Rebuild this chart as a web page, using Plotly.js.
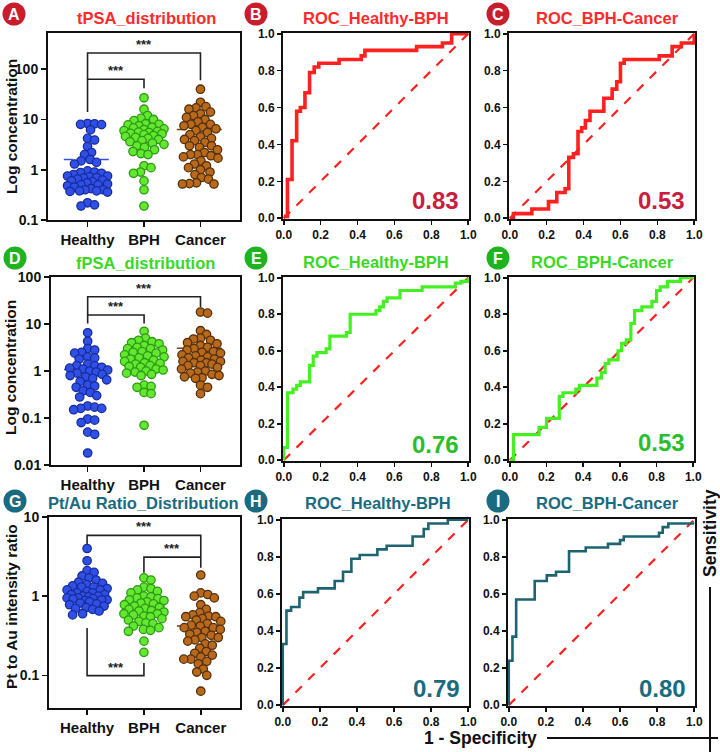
<!DOCTYPE html>
<html>
<head>
<meta charset="utf-8">
<script src="https://cdn.plot.ly/plotly-3.0.1.min.js"></script>
<style>html,body{margin:0;padding:0;background:#fff;}#chart{width:720px;height:752px;}</style>
</head>
<body>
<div id="chart"></div>
<script>
// ---------------- DATA ----------------
const groups = ["Healthy", "BPH", "Cancer"];

const tpsaHealthy = [8.3, 8.2, 8.0, 7.9, 6.2, 4.2, 3.9, 2.9, 2.2, 2.0, 1.6, 1.5, 1.4, 1.3, 0.95, 0.9, 0.88, 0.85, 0.8, 0.75, 0.75, 0.72, 0.7, 0.68, 0.65, 0.62, 0.6, 0.58, 0.55, 0.52, 0.5, 0.5, 0.48, 0.45, 0.42, 0.4, 0.4, 0.38, 0.38, 0.37, 0.36, 0.22, 0.2, 0.19];
const tpsaBPH = [27, 16, 12, 10.5, 10, 9.5, 8.2, 8, 7.8, 7.5, 7, 6.8, 6.5, 6.3, 6, 5.8, 5.6, 5.5, 5.3, 5.2, 5, 4.8, 4.6, 4.4, 4.2, 4, 3.8, 3.6, 3.4, 3.2, 3, 2.8, 2.5, 2.3, 2.1, 2.0, 1.2, 1.1, 0.9, 0.85, 0.6, 0.4, 0.19];
const tpsaCancer = [40, 22, 18, 17, 16, 14, 13, 12, 11, 10, 9, 8, 8, 7.5, 7, 6.5, 6, 5.5, 5, 4.5, 4.2, 4, 3.8, 3.5, 3, 3, 2.8, 2.5, 2.2, 2, 2, 1.9, 1.8, 1.7, 1.5, 1.3, 1.2, 1.1, 1, 0.9, 0.8, 0.7, 0.65, 0.55, 0.53, 0.52, 0.52];
const tpsaMeans = [1.6, 5.2, 6.3];

const fpsaHealthy = [6.5, 4.3, 3.0, 2.8, 2.5, 2.4, 2.0, 1.9, 1.8, 1.4, 1.3, 1.3, 1.2, 1.15, 1.1, 1.05, 1.0, 0.95, 0.9, 0.85, 0.8, 0.75, 0.7, 0.65, 0.6, 0.5, 0.48, 0.45, 0.38, 0.35, 0.3, 0.28, 0.18, 0.17, 0.16, 0.16, 0.15, 0.095, 0.09, 0.08, 0.05, 0.045, 0.018];
const fpsaBPH = [7, 5, 4.5, 4.2, 4, 3.8, 3.5, 3.2, 3, 3, 2.8, 2.6, 2.5, 2.4, 2.2, 2.1, 2, 1.9, 1.8, 1.7, 1.6, 1.5, 1.45, 1.4, 1.3, 1.25, 1.2, 1.1, 1.05, 1.0, 0.95, 0.9, 0.85, 0.8, 0.5, 0.47, 0.45, 0.35, 0.33, 0.07];
const fpsaCancer = [18, 17, 7.2, 6, 5, 4.8, 4.5, 4, 3.8, 3.5, 3.2, 3, 2.8, 2.6, 2.5, 2.4, 2.2, 2.1, 2, 1.9, 1.8, 1.7, 1.6, 1.6, 1.5, 1.5, 1.4, 1.3, 1.3, 1.2, 1.1, 1.0, 0.95, 0.9, 0.85, 0.8, 0.75, 0.72, 0.7, 0.5, 0.45, 0.33];
const fpsaMeans = [1.08, 2.19, 3.04];

const ratioHealthy = [4.0, 2.8, 2.1, 2.0, 1.8, 1.7, 1.6, 1.5, 1.45, 1.4, 1.35, 1.3, 1.3, 1.25, 1.2, 1.2, 1.15, 1.1, 1.1, 1.05, 1.05, 1.0, 1.0, 0.98, 0.95, 0.95, 0.93, 0.92, 0.9, 0.9, 0.88, 0.85, 0.82, 0.8, 0.78, 0.75, 0.72, 0.7, 0.68, 0.65, 0.6, 0.58];
const ratioBPH = [1.7, 1.6, 1.3, 1.25, 1.2, 1.15, 1.1, 1.0, 0.98, 0.95, 0.93, 0.9, 0.88, 0.85, 0.82, 0.8, 0.78, 0.75, 0.72, 0.7, 0.68, 0.66, 0.65, 0.63, 0.6, 0.6, 0.58, 0.56, 0.55, 0.52, 0.5, 0.48, 0.46, 0.45, 0.42, 0.4, 0.38, 0.37, 0.36, 0.27, 0.195];
const ratioCancer = [1.85, 1.1, 1.05, 1.0, 0.95, 0.78, 0.68, 0.62, 0.58, 0.56, 0.55, 0.55, 0.52, 0.5, 0.48, 0.45, 0.43, 0.42, 0.4, 0.4, 0.38, 0.36, 0.35, 0.33, 0.32, 0.3, 0.3, 0.28, 0.27, 0.25, 0.24, 0.22, 0.2, 0.19, 0.18, 0.17, 0.16, 0.16, 0.15, 0.14, 0.12, 0.11, 0.1, 0.063];
const ratioMeans = [1.19, 0.75, 0.42];

// ROC step curves (1 - specificity, sensitivity)
const rocB_fpr = [0, 0.02, 0.045, 0.07, 0.09, 0.115, 0.14, 0.165, 0.19, 0.30, 0.42, 0.44, 0.72, 0.86, 0.91, 1.0];
const rocB_tpr = [0.01, 0.21, 0.42, 0.58, 0.60, 0.68, 0.79, 0.82, 0.84, 0.86, 0.88, 0.91, 0.93, 0.95, 1.0, 1.0];
const rocC_fpr = [0, 0.02, 0.12, 0.21, 0.255, 0.30, 0.32, 0.345, 0.37, 0.39, 0.41, 0.435, 0.51, 0.555, 0.58, 0.60, 0.62, 0.81, 0.88, 0.93, 1.0];
const rocC_tpr = [0, 0.025, 0.05, 0.09, 0.14, 0.16, 0.33, 0.35, 0.47, 0.49, 0.53, 0.58, 0.65, 0.70, 0.74, 0.84, 0.86, 0.88, 0.93, 0.95, 1.0];
const rocE_fpr = [0, 0, 0.02, 0.05, 0.07, 0.09, 0.14, 0.16, 0.18, 0.23, 0.25, 0.34, 0.36, 0.50, 0.52, 0.54, 0.56, 0.63, 0.75, 0.93, 0.96, 1.0];
const rocE_tpr = [0, 0.07, 0.37, 0.39, 0.41, 0.43, 0.52, 0.57, 0.59, 0.61, 0.68, 0.70, 0.80, 0.82, 0.84, 0.87, 0.89, 0.93, 0.95, 0.97, 0.98, 1.0];
const rocF_fpr = [0, 0.02, 0.16, 0.20, 0.27, 0.29, 0.36, 0.38, 0.475, 0.50, 0.52, 0.54, 0.59, 0.61, 0.635, 0.66, 0.68, 0.72, 0.775, 0.80, 0.82, 0.86, 0.93, 1.0];
const rocF_tpr = [0, 0.14, 0.18, 0.23, 0.35, 0.37, 0.39, 0.41, 0.45, 0.48, 0.53, 0.55, 0.60, 0.64, 0.66, 0.75, 0.82, 0.84, 0.87, 0.93, 0.95, 0.98, 1.0, 1.0];
const rocH_fpr = [0, 0, 0.02, 0.045, 0.09, 0.11, 0.19, 0.28, 0.325, 0.37, 0.415, 0.51, 0.56, 0.70, 0.76, 0.785, 0.89, 1.0];
const rocH_tpr = [0, 0.33, 0.51, 0.53, 0.58, 0.61, 0.63, 0.67, 0.72, 0.79, 0.81, 0.84, 0.86, 0.91, 0.95, 0.98, 1.0, 1.0];
const rocI_fpr = [0, 0, 0.02, 0.04, 0.14, 0.205, 0.255, 0.325, 0.415, 0.535, 0.60, 0.62, 0.81, 0.83, 0.86, 1.0];
const rocI_tpr = [0, 0.24, 0.37, 0.57, 0.67, 0.70, 0.72, 0.83, 0.85, 0.87, 0.89, 0.91, 0.93, 0.96, 0.98, 0.98];

const aucLabels = ["0.83", "0.53", "0.76", "0.53", "0.79", "0.80"];
const panelLetters = ["A", "B", "C", "D", "E", "F", "G", "H", "I"];
const panelTitles = ["tPSA_distribution", "ROC_Healthy-BPH", "ROC_BPH-Cancer",
                     "fPSA_distribution", "ROC_Healthy-BPH", "ROC_BPH-Cancer",
                     "Pt/Au Ratio_Distribution", "ROC_Healthy-BPH", "ROC_BPH-Cancer"];
const distYTitles = ["Log concentration", "Log concentration", "Pt to Au intensity ratio"];

// ---------------- LAYOUT / STYLE ----------------
const W = 720, H = 752;
const FONT = "Liberation Sans, Arial, Helvetica, sans-serif";
const BOX = {
  A: {x: [48, 240], y: [33, 220]}, B: {x: [283, 469], y: [33, 219]}, C: {x: [509, 695], y: [33, 219]},
  D: {x: [51, 240], y: [277, 465]}, E: {x: [283, 469], y: [277, 461]}, F: {x: [509, 694], y: [277, 461]},
  G: {x: [49, 240], y: [517, 708]}, H: {x: [282, 469], y: [519, 706]}, I: {x: [508, 695], y: [519, 706]}
};
const rowColor = {
  circle: ["#c81e2c", "#1fb41f", "#1a6b80"],
  title: ["#ff2a2a", "#3ad826", "#1a6b80"],
  auc: ["#c8203c", "#2cbd2c", "#1a6b7c"],
  roc: ["#ff2020", "#44f022", "#1d6473"]
};
const grpStyle = [
  {fill: "#2f50e6", line: "#1a2c9c", mean: "#2f50e6"},
  {fill: "#62e830", line: "#2e9a12", mean: "#3cbf1e"},
  {fill: "#b8691c", line: "#55300a", mean: "#7a4010"}
];

const traces = [];
const annotations = [];
const shapes = [];
const layout = {
  width: W, height: H, margin: {l: 0, r: 0, t: 0, b: 0},
  paper_bgcolor: "#fff", plot_bgcolor: "#fff", showlegend: false,
  font: {family: FONT, color: "#111"}
};

function pxAnn(text, x, y, font, extra) {
  return Object.assign({text: text, x: x / W, y: 1 - y / H, xref: "paper", yref: "paper",
    showarrow: false, xanchor: "center", yanchor: "middle", font: font}, extra || {});
}

function axisBase() {
  return {showgrid: false, zeroline: false, showline: true, mirror: true, linecolor: "#111",
    linewidth: 2, ticks: "outside", ticklen: 5, tickwidth: 1.6, tickcolor: "#111", fixedrange: true};
}

function setAxes(idx, box, xa, ya) {
  const n = idx === 1 ? "" : String(idx);
  xa.domain = [box.x[0] / W, box.x[1] / W];
  ya.domain = [1 - box.y[1] / H, 1 - box.y[0] / H];
  xa.anchor = "y" + n; ya.anchor = "x" + n;
  layout["xaxis" + n] = xa; layout["yaxis" + n] = ya;
  return {x: "x" + n, y: "y" + n};
}

// beeswarm offsets: computed from the values, with partial overlap and a width cap (px)
function swarm(vals, center, yToPx, pxPerX, diam, cap) {
  const pts = vals.map((v, i) => ({i: i, y: yToPx(v)}));
  pts.sort((a, b) => a.y - b.y);
  const placed = [], out = new Array(vals.length);
  for (const p of pts) {
    let off = null, best = -1, bestOff = 0;
    const steps = Math.floor(cap / 0.5);
    for (let k = 0; k <= 2 * steps; k++) {
      const cand = (k % 2 === 1 ? 1 : -1) * Math.ceil(k / 2) * 0.5;
      let md = Infinity;
      for (const q of placed) {
        const d = Math.hypot(q.x - cand, q.y - p.y);
        if (d < md) md = d;
      }
      if (md >= diam) { off = cand; break; }
      if (md > best + 0.3) { best = md; bestOff = cand; }
    }
    if (off === null) off = bestOff;
    placed.push({x: off, y: p.y});
    out[p.i] = center + off / pxPerX;
  }
  return out;
}

function distPanel(idx, box, series, means, yrange, xrange, tickvals, brackets, yTitle, titleY) {
  const xa = Object.assign(axisBase(), {range: xrange, tickvals: [0, 1, 2], ticktext: groups,
    tickfont: {family: FONT, size: 15, weight: 700, color: "#111"}});
  const ya = Object.assign(axisBase(), {type: "log", range: yrange, tickvals: tickvals,
    ticktext: tickvals.map(v => String(v)), tickfont: {family: FONT, size: 14, weight: 700, color: "#111"}});
  const ax = setAxes(idx, box, xa, ya);
  const pxPerX = (box.x[1] - box.x[0]) / (xrange[1] - xrange[0]);
  const pxPerDec = (box.y[1] - box.y[0]) / (yrange[1] - yrange[0]);
  const yToPx = v => -(Math.log10(v) - yrange[0]) * pxPerDec;
  means.forEach((m, g) => {
    traces.push({type: "scatter", mode: "lines", xaxis: ax.x, yaxis: ax.y, hoverinfo: "skip",
      x: [g - 0.42, g + 0.42], y: [m, m], line: {color: grpStyle[g].mean, width: 1.6, dash: "dash"}});
  });
  series.forEach((vals, g) => {
    traces.push({type: "scatter", mode: "markers", xaxis: ax.x, yaxis: ax.y,
      x: swarm(vals, g, yToPx, pxPerX, 7, 20), y: vals, hoverinfo: "y", cliponaxis: false,
      marker: {size: 8.4, color: grpStyle[g].fill, line: {color: grpStyle[g].line, width: 1.3}}});
  });
  brackets.forEach(b => {
    traces.push({type: "scatter", mode: "lines", xaxis: ax.x, yaxis: ax.y, hoverinfo: "skip",
      x: [b.from, b.from, b.to, b.to], y: [b.lowFrom, b.top, b.top, b.lowTo],
      line: {color: "#222", width: 1.6}});
    annotations.push({text: b.label, xref: ax.x, yref: ax.y, x: (b.from + b.to) / 2, y: Math.log10(b.top),
      yanchor: "bottom", xanchor: "center", showarrow: false, yshift: -1,
      font: {family: FONT, size: 13, weight: 700, color: "#222"}});
  });
  annotations.push(pxAnn(yTitle, 11, titleY, {family: FONT, size: 15.5, weight: 700, color: "#111"}, {textangle: -90}));
}

function rocPanel(idx, box, fpr, tpr, row, lineW) {
  const fontT = {family: FONT, size: 12, weight: 700, color: "#111"};
  const xa = Object.assign(axisBase(), {range: [-0.004, 1.004], tick0: 0, dtick: 0.2, tickformat: ".1f", tickfont: fontT, ticklen: 4});
  const ya = Object.assign(axisBase(), {range: [-0.004, 1.004], tick0: 0, dtick: 0.2, tickformat: ".1f", tickfont: fontT, ticklen: 4});
  const ax = setAxes(idx, box, xa, ya);
  traces.push({type: "scatter", mode: "lines", xaxis: ax.x, yaxis: ax.y, hoverinfo: "skip",
    x: [0, 1], y: [0, 1], line: {color: "#ff2020", width: 2.2, dash: "dash"}});
  traces.push({type: "scatter", mode: "lines", xaxis: ax.x, yaxis: ax.y,
    x: fpr, y: tpr, line: {color: rowColor.roc[row], width: lineW, shape: "hv"}});
}

// brackets (annotation geometry)
const brA = [{from: 0, to: 1, top: 63, lowFrom: 14, lowTo: 42, label: "***"},
             {from: 0, to: 2, top: 210, lowFrom: 63, lowTo: 60, label: "***"}];
const brD = [{from: 0, to: 1, top: 15.5, lowFrom: 10.3, lowTo: 10.3, label: "***"},
             {from: 0, to: 2, top: 38, lowFrom: 15.5, lowTo: 23, label: "***"}];
const brG = [{from: 0, to: 2, top: 5.86, lowFrom: 4.5, lowTo: 2.28, label: "***"},
             {from: 1, to: 2, top: 3.11, lowFrom: 1.97, lowTo: 3.11, label: "***"},
             {from: 0, to: 1, top: 0.099, lowFrom: 0.397, lowTo: 0.143, label: "***"}];

distPanel(1, BOX.A, [tpsaHealthy, tpsaBPH, tpsaCancer], tpsaMeans, [-1, 2.72], [-0.7, 2.7], [0.1, 1, 10, 100], brA, distYTitles[0], 127);
rocPanel(2, BOX.B, rocB_fpr, rocB_tpr, 0, 3.6);
rocPanel(3, BOX.C, rocC_fpr, rocC_tpr, 0, 3.6);
distPanel(4, BOX.D, [fpsaHealthy, fpsaBPH, fpsaCancer], fpsaMeans, [-2, 2], [-0.65, 2.7], [0.01, 0.1, 1, 10, 100], brD, distYTitles[1], 368);
rocPanel(5, BOX.E, rocE_fpr, rocE_tpr, 1, 3.2);
rocPanel(6, BOX.F, rocF_fpr, rocF_tpr, 1, 3.2);
distPanel(7, BOX.G, [ratioHealthy, ratioBPH, ratioCancer], ratioMeans, [-1.413, 1], [-0.67, 2.69], [0.1, 1, 10], brG, distYTitles[2], 607);
rocPanel(8, BOX.H, rocH_fpr, rocH_tpr, 2, 2.6);
rocPanel(9, BOX.I, rocI_fpr, rocI_tpr, 2, 2.6);

// panel letters and titles
const letterPos = [[14, 14], [256, 14], [498, 14], [15, 258], [256, 258], [498, 258], [15, 501], [256, 501], [498, 501]];
const titlePos = [[146, 18], [376, 18], [607, 18], [145, 263], [376, 262], [602, 262], [143, 503], [378, 503], [607, 503]];
panelLetters.forEach((L, i) => {
  const row = Math.floor(i / 3);
  const [cx, cy] = letterPos[i];
  const r = 11.5;
  shapes.push({type: "circle", xref: "paper", yref: "paper", x0: (cx - r) / W, x1: (cx + r) / W,
    y0: 1 - (cy + r) / H, y1: 1 - (cy - r) / H, fillcolor: rowColor.circle[row], line: {width: 0}});
  annotations.push(pxAnn(L, cx, cy + 0.5, {family: FONT, size: 16, weight: 700, color: "#fff"}));
  const [tx, ty] = titlePos[i];
  annotations.push(pxAnn(panelTitles[i], tx, ty, {family: FONT, size: 16.5, weight: 700, color: rowColor.title[row]}));
});

// AUC labels
const aucPos = [[435, 200, 0], [661, 200, 0], [435, 444, 1], [661, 443, 1], [437, 688, 2], [662, 688, 2]];
aucLabels.forEach((t, i) => {
  const [x, y, row] = aucPos[i];
  annotations.push(pxAnn(t, x, y, {family: FONT, size: 24, weight: 700, color: rowColor.auc[row]}));
});

// shared ROC axis labels
annotations.push(pxAnn("1 - Specificity", 481, 738, {family: FONT, size: 17.5, weight: 700, color: "#111"}));
annotations.push(pxAnn("Sensitivity", 710, 533, {family: FONT, size: 17.5, weight: 700, color: "#111"}, {textangle: -90}));
shapes.push({type: "line", xref: "paper", yref: "paper", x0: 547 / W, x1: 718 / W, y0: 1 - 738 / H, y1: 1 - 738 / H, line: {color: "#111", width: 2}});
shapes.push({type: "line", xref: "paper", yref: "paper", x0: 710 / W, x1: 710 / W, y0: 1 - 587 / H, y1: 0, line: {color: "#111", width: 2}});

layout.annotations = annotations;
layout.shapes = shapes;
Plotly.newPlot("chart", traces, layout, {displayModeBar: false, staticPlot: true});
</script>
</body>
</html>
